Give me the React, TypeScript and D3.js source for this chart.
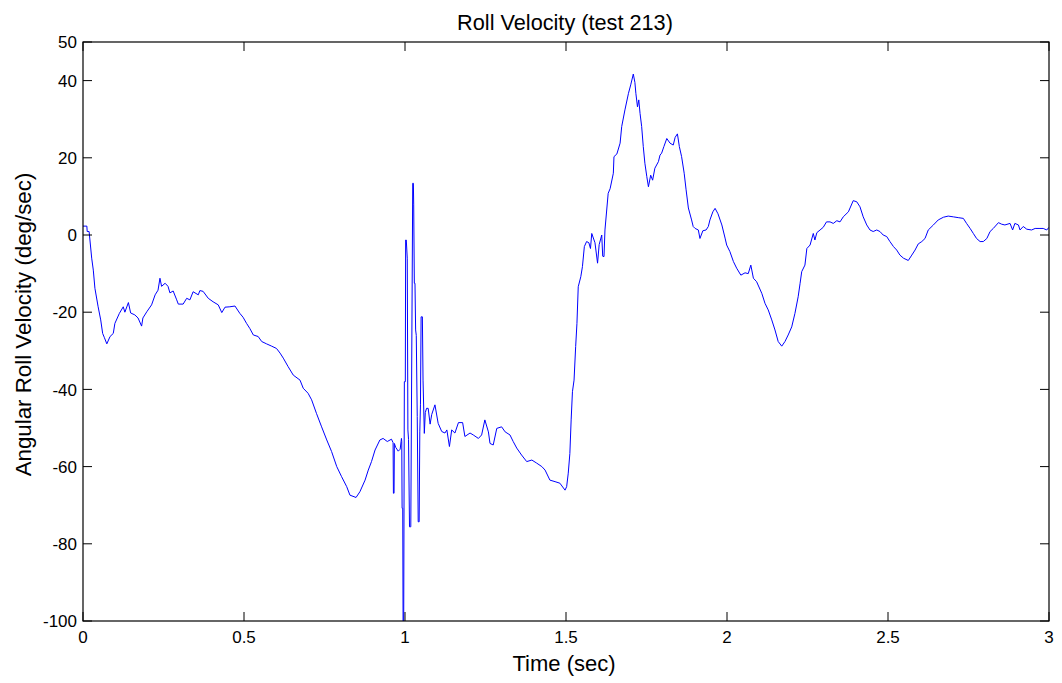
import React from "react";
import * as d3 from "d3";

const TIME: number[] = [
  0.000, 0.012, 0.013, 0.019, 0.020, 0.027, 0.032, 0.037, 0.047, 0.055, 0.061, 0.066, 0.074, 0.084, 0.094, 0.099,
  0.113, 0.125, 0.130, 0.141, 0.148, 0.161, 0.171, 0.182, 0.186, 0.198, 0.213, 0.224, 0.233, 0.239, 0.244, 0.255,
  0.264, 0.270, 0.280, 0.291, 0.296, 0.311, 0.322, 0.332, 0.342, 0.358, 0.363, 0.373, 0.389, 0.404, 0.420, 0.431,
  0.441, 0.456, 0.472, 0.487, 0.497, 0.508, 0.518, 0.529, 0.544, 0.555, 0.570, 0.586, 0.601, 0.612, 0.622, 0.637,
  0.653, 0.674, 0.684, 0.699, 0.710, 0.725, 0.741, 0.757, 0.772, 0.788, 0.803, 0.819, 0.829, 0.848, 0.860, 0.876,
  0.886, 0.896, 0.907, 0.922, 0.932, 0.945, 0.958, 0.963, 0.964, 0.966, 0.967, 0.971, 0.979, 0.985, 0.989, 0.990,
  0.991, 0.993, 0.994, 0.996, 0.998, 1.001, 1.002, 1.004, 1.007, 1.009, 1.011, 1.014, 1.017, 1.018, 1.024, 1.026,
  1.027, 1.029, 1.031, 1.033, 1.035, 1.038, 1.041, 1.044, 1.046, 1.048, 1.050, 1.054, 1.056, 1.060, 1.063, 1.067,
  1.072, 1.078, 1.083, 1.093, 1.103, 1.114, 1.124, 1.130, 1.138, 1.145, 1.155, 1.166, 1.179, 1.186, 1.202, 1.212,
  1.228, 1.238, 1.248, 1.259, 1.264, 1.274, 1.285, 1.300, 1.311, 1.326, 1.336, 1.347, 1.362, 1.378, 1.394, 1.409,
  1.425, 1.435, 1.450, 1.466, 1.481, 1.497, 1.502, 1.507, 1.512, 1.516, 1.520, 1.525, 1.530, 1.534, 1.538, 1.546,
  1.551, 1.557, 1.564, 1.571, 1.576, 1.580, 1.590, 1.598, 1.603, 1.611, 1.614, 1.618, 1.621, 1.631, 1.637, 1.647,
  1.649, 1.658, 1.668, 1.673, 1.683, 1.694, 1.701, 1.709, 1.714, 1.717, 1.722, 1.726, 1.730, 1.735, 1.740, 1.745,
  1.751, 1.756, 1.763, 1.769, 1.776, 1.787, 1.792, 1.797, 1.804, 1.813, 1.823, 1.833, 1.839, 1.846, 1.852, 1.859,
  1.867, 1.873, 1.880, 1.890, 1.895, 1.901, 1.911, 1.916, 1.925, 1.935, 1.942, 1.947, 1.956, 1.963, 1.972, 1.984,
  1.994, 1.999, 2.009, 2.020, 2.030, 2.043, 2.056, 2.066, 2.074, 2.082, 2.092, 2.108, 2.118, 2.128, 2.139, 2.149,
  2.159, 2.170, 2.180, 2.190, 2.201, 2.211, 2.221, 2.227, 2.232, 2.242, 2.248, 2.258, 2.268, 2.273, 2.279, 2.289,
  2.299, 2.309, 2.320, 2.330, 2.341, 2.351, 2.361, 2.377, 2.392, 2.403, 2.413, 2.423, 2.434, 2.444, 2.454, 2.465,
  2.475, 2.485, 2.496, 2.506, 2.517, 2.527, 2.537, 2.548, 2.563, 2.574, 2.584, 2.594, 2.605, 2.615, 2.625, 2.641,
  2.656, 2.672, 2.687, 2.703, 2.718, 2.734, 2.744, 2.755, 2.765, 2.775, 2.786, 2.796, 2.807, 2.817, 2.827, 2.843,
  2.853, 2.863, 2.879, 2.887, 2.894, 2.905, 2.910, 2.920, 2.931, 2.946, 2.957, 2.972, 2.982, 2.993, 3.000,
];

const ROLL_VELOCITY: number[] = [
  2.3, 2.3, 0.9, 0.9, 0.0, -6.0, -9.1, -13.8, -18.6, -22.0, -25.5, -26.5, -28.2, -26.3, -25.5, -22.9,
  -20.3, -18.6, -20.0, -17.5, -20.2, -20.7, -21.5, -23.6, -21.5, -19.9, -18.1, -15.5, -14.3, -11.2, -13.3, -12.5,
  -13.3, -15.0, -14.5, -16.8, -17.9, -17.9, -16.4, -16.8, -14.7, -15.5, -14.4, -14.6, -16.4, -17.3, -18.1, -20.1,
  -18.7, -18.6, -18.4, -20.3, -21.3, -22.9, -24.2, -25.9, -26.3, -27.6, -28.2, -28.8, -29.4, -30.6, -31.9, -34.1,
  -36.3, -37.6, -39.7, -41.0, -42.7, -46.2, -49.7, -53.1, -56.1, -60.0, -62.6, -65.2, -67.4, -68.0, -66.5, -63.5,
  -60.9, -58.7, -55.7, -53.1, -52.7, -53.5, -52.9, -53.8, -66.9, -66.9, -54.0, -55.0, -56.0, -55.5, -52.7, -53.5,
  -70.8, -70.8, -100.0, -100.0, -38.0, -38.0, -1.3, -1.3, -6.0, -50.5, -53.0, -75.6, -75.6, -75.6, 13.4, 13.4,
  8.0, -12.5, -12.5, -24.6, -26.0, -47.0, -74.3, -74.3, -51.0, -44.0, -21.2, -21.2, -37.6, -51.4, -46.0, -44.9,
  -44.9, -49.0, -46.5, -44.0, -48.8, -50.9, -51.3, -50.5, -54.8, -50.5, -51.3, -48.6, -48.6, -52.2, -51.3, -51.8,
  -52.7, -51.8, -47.9, -51.0, -54.0, -54.4, -50.1, -49.7, -51.0, -51.8, -53.5, -55.2, -57.0, -58.7, -58.3, -59.1,
  -60.0, -60.9, -63.5, -63.9, -64.3, -66.1, -65.2, -61.7, -56.6, -47.9, -40.6, -37.6, -28.9, -22.9, -13.4, -10.8,
  -8.2, -3.0, -1.7, -2.0, -3.5, 0.4, -2.0, -7.3, -2.5, 0.0, -5.5, -5.6, 1.3, 10.8, 12.0, 16.0,
  20.3, 21.0, 23.8, 28.1, 32.4, 36.7, 38.9, 41.7, 39.5, 36.7, 33.2, 35.0, 31.5, 28.1, 22.9, 18.6,
  15.1, 12.5, 15.5, 14.2, 17.3, 19.0, 20.7, 21.2, 22.9, 25.0, 23.8, 23.3, 25.3, 26.2, 22.9, 20.3,
  16.0, 11.7, 7.0, 3.9, 2.2, 1.7, 1.3, -0.9, 1.1, 1.3, 2.2, 3.9, 6.0, 6.9, 5.5, 2.6,
  -0.8, -2.6, -4.3, -6.9, -8.6, -10.4, -9.8, -10.0, -7.8, -11.2, -12.1, -15.1, -17.7, -19.4, -22.0, -24.6,
  -27.6, -28.8, -27.6, -25.9, -23.8, -20.3, -16.0, -12.5, -9.5, -7.8, -3.5, -2.6, 0.4, -1.3, 0.6, 1.3,
  2.0, 3.4, 3.4, 3.0, 3.7, 3.4, 4.7, 6.0, 8.9, 8.6, 7.3, 4.7, 2.6, 1.3, 0.9, 1.3,
  0.9, 0.0, -0.4, -1.7, -3.0, -3.9, -5.2, -6.0, -6.6, -5.2, -3.9, -2.3, -1.7, -0.9, 1.3, 2.6,
  3.9, 4.6, 4.9, 4.7, 4.5, 4.3, 3.0, 1.7, 0.4, -0.9, -1.7, -1.7, -0.9, 0.9, 1.7, 3.2,
  2.8, 2.6, 3.0, 1.3, 3.0, 2.6, 1.3, 2.2, 1.5, 1.3, 1.7, 1.7, 1.7, 1.3, 2.0,
];

const X_TICKS: number[] = [0, 0.5, 1, 1.5, 2, 2.5, 3];
const X_TICK_LABELS: string[] = ["0", "0.5", "1", "1.5", "2", "2.5", "3"];
const Y_TICKS: number[] = [-100, -80, -60, -40, -20, 0, 20, 40, 50];
const Y_TICK_LABELS: string[] = ["-100", "-80", "-60", "-40", "-20", "0", "20", "40", "50"];

const TITLE = "Roll Velocity (test 213)";
const X_LABEL = "Time (sec)";
const Y_LABEL = "Angular Roll Velocity (deg/sec)";

const W = 1062;
const H = 683;
const LEFT = 83;
const RIGHT = 1049;
const TOP = 42;
const BOTTOM = 621;
const TICK = 9;
const FONT = "'Liberation Sans', Arial, Helvetica, sans-serif";

export default function App() {
  const x = d3.scaleLinear().domain([0, 3]).range([LEFT, RIGHT]);
  const y = d3.scaleLinear().domain([-100, 50]).range([BOTTOM, TOP]);
  const pts: [number, number][] = TIME.map((t, i) => [t, ROLL_VELOCITY[i]]);
  const line = d3
    .line<[number, number]>()
    .x((d) => x(d[0]))
    .y((d) => y(d[1]));

  return (
    <svg
      width={W}
      height={H}
      style={{ position: "absolute", left: 0, top: 0, background: "#fff" }}
      fontFamily={FONT}
    >
      <defs>
        <clipPath id="plotclip">
          <rect x={LEFT} y={TOP} width={RIGHT - LEFT} height={BOTTOM - TOP} />
        </clipPath>
      </defs>
      <rect x={0} y={0} width={W} height={H} fill="#fff" />
      <path
        d={line(pts) || ""}
        fill="none"
        stroke="#0000ff"
        strokeWidth={1}
        clipPath="url(#plotclip)"
      />
      <rect
        x={LEFT}
        y={TOP}
        width={RIGHT - LEFT}
        height={BOTTOM - TOP}
        fill="none"
        stroke="#000"
        strokeWidth={1.2}
      />
      {X_TICKS.map((t, i) => (
        <g key={"xt" + i}>
          <line x1={x(t)} x2={x(t)} y1={BOTTOM} y2={BOTTOM - TICK} stroke="#000" strokeWidth={1} />
          <line x1={x(t)} x2={x(t)} y1={TOP} y2={TOP + TICK} stroke="#000" strokeWidth={1} />
          <text x={x(t)} y={643} textAnchor="middle" fontSize={17} fill="#000">
            {X_TICK_LABELS[i]}
          </text>
        </g>
      ))}
      {Y_TICKS.map((v, i) => (
        <g key={"yt" + i}>
          <line x1={LEFT} x2={LEFT + TICK} y1={y(v)} y2={y(v)} stroke="#000" strokeWidth={1} />
          <line x1={RIGHT} x2={RIGHT - TICK} y1={y(v)} y2={y(v)} stroke="#000" strokeWidth={1} />
          <text x={77} y={y(v)} dy="0.36em" textAnchor="end" fontSize={17} fill="#000">
            {Y_TICK_LABELS[i]}
          </text>
        </g>
      ))}
      <text x={(LEFT + RIGHT) / 2 - 1} y={30} textAnchor="middle" fontSize={21.7} fill="#000">
        {TITLE}
      </text>
      <text x={(LEFT + RIGHT) / 2 - 2} y={671} textAnchor="middle" fontSize={22} fill="#000">
        {X_LABEL}
      </text>
      <text
        transform={`translate(31,${(TOP + BOTTOM) / 2 - 7}) rotate(-90)`}
        textAnchor="middle"
        fontSize={22.3}
        fill="#000"
      >
        {Y_LABEL}
      </text>
    </svg>
  );
}
